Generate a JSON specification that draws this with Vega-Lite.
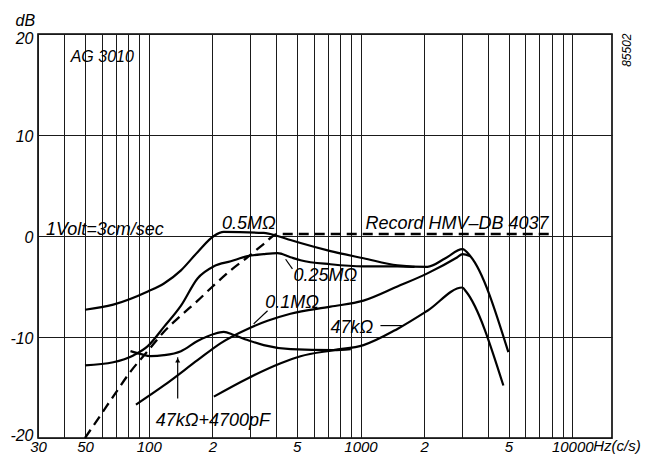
{
  "$schema": "https://vega.github.io/schema/vega-lite/v6.json",
  "width": 574,
  "height": 404,
  "autosize": {"type": "none"},
  "padding": {"left": 38, "top": 34, "right": 38, "bottom": 17},
  "background": "white",
  "config": {
    "view": {"stroke": "black", "strokeWidth": 1.6},
    "font": "Liberation Sans",
    "axis": {
      "labelFont": "Liberation Sans",
      "labelFontStyle": "italic",
      "labelFontSize": 15,
      "labelColor": "black",
      "gridColor": "#1a1a1a",
      "gridWidth": 1,
      "gridOpacity": 1,
      "domain": false,
      "ticks": false
    }
  },
  "datasets": {
    "curves": [
      {"s": "0.5", "f": 50, "db": -7.3}, {"s": "0.5", "f": 68, "db": -6.8}, {"s": "0.5", "f": 99, "db": -5.5},
      {"s": "0.5", "f": 118, "db": -4.7}, {"s": "0.5", "f": 142, "db": -3.4}, {"s": "0.5", "f": 170, "db": -1.6},
      {"s": "0.5", "f": 203, "db": 0.0}, {"s": "0.5", "f": 226, "db": 0.4}, {"s": "0.5", "f": 349, "db": 0.3},
      {"s": "0.5", "f": 406, "db": 0.0}, {"s": "0.5", "f": 467, "db": -0.4}, {"s": "0.5", "f": 521, "db": -0.7},
      {"s": "0.5", "f": 722, "db": -1.5}, {"s": "0.5", "f": 1033, "db": -2.2}, {"s": "0.5", "f": 1494, "db": -2.9},
      {"s": "0.5", "f": 2070, "db": -3.05}, {"s": "0.5", "f": 2518, "db": -2.2}, {"s": "0.5", "f": 3028, "db": -1.3},
      {"s": "0.5", "f": 3303, "db": -2.0}, {"s": "0.5", "f": 4991, "db": -11.5},

      {"s": "0.25", "f": 50, "db": -12.8}, {"s": "0.25", "f": 68, "db": -12.5}, {"s": "0.25", "f": 85, "db": -11.8},
      {"s": "0.25", "f": 99, "db": -10.9}, {"s": "0.25", "f": 118, "db": -9.0}, {"s": "0.25", "f": 142, "db": -6.9},
      {"s": "0.25", "f": 170, "db": -4.2}, {"s": "0.25", "f": 203, "db": -3.0}, {"s": "0.25", "f": 244, "db": -2.5},
      {"s": "0.25", "f": 293, "db": -2.0}, {"s": "0.25", "f": 349, "db": -1.8}, {"s": "0.25", "f": 406, "db": -1.7},
      {"s": "0.25", "f": 467, "db": -2.1}, {"s": "0.25", "f": 521, "db": -2.4}, {"s": "0.25", "f": 722, "db": -2.8},
      {"s": "0.25", "f": 1033, "db": -3.0}, {"s": "0.25", "f": 1494, "db": -3.0}, {"s": "0.25", "f": 1800, "db": -3.05},

      {"s": "0.1", "f": 87, "db": -16.7}, {"s": "0.1", "f": 118, "db": -14.8}, {"s": "0.1", "f": 170, "db": -12.3},
      {"s": "0.1", "f": 219, "db": -10.6}, {"s": "0.1", "f": 293, "db": -9.2}, {"s": "0.1", "f": 364, "db": -8.4},
      {"s": "0.1", "f": 467, "db": -7.7}, {"s": "0.1", "f": 722, "db": -7.0}, {"s": "0.1", "f": 1033, "db": -6.4},
      {"s": "0.1", "f": 1494, "db": -5.0}, {"s": "0.1", "f": 2070, "db": -3.7}, {"s": "0.1", "f": 2868, "db": -2.1},
      {"s": "0.1", "f": 3028, "db": -1.8}, {"s": "0.1", "f": 3303, "db": -2.0},

      {"s": "47kC", "f": 82, "db": -11.4}, {"s": "47kC", "f": 92, "db": -11.7}, {"s": "47kC", "f": 102, "db": -11.9},
      {"s": "47kC", "f": 118, "db": -11.8}, {"s": "47kC", "f": 142, "db": -11.4}, {"s": "47kC", "f": 170, "db": -10.4},
      {"s": "47kC", "f": 203, "db": -9.7}, {"s": "47kC", "f": 226, "db": -9.5}, {"s": "47kC", "f": 252, "db": -9.8},
      {"s": "47kC", "f": 293, "db": -10.3}, {"s": "47kC", "f": 349, "db": -10.8}, {"s": "47kC", "f": 468, "db": -11.2},
      {"s": "47kC", "f": 746, "db": -11.3}, {"s": "47kC", "f": 900, "db": -11.2},

      {"s": "47k", "f": 203, "db": -15.9}, {"s": "47k", "f": 293, "db": -14.1}, {"s": "47k", "f": 420, "db": -12.6},
      {"s": "47k", "f": 521, "db": -11.9}, {"s": "47k", "f": 746, "db": -11.3}, {"s": "47k", "f": 1033, "db": -10.8},
      {"s": "47k", "f": 1494, "db": -9.2}, {"s": "47k", "f": 2070, "db": -7.4}, {"s": "47k", "f": 3028, "db": -5.1},
      {"s": "47k", "f": 3150, "db": -5.5}, {"s": "47k", "f": 4727, "db": -14.8}
    ],
    "record": [
      {"f": 50, "db": -20}, {"f": 59.4, "db": -17.7}, {"f": 68.4, "db": -15.8}, {"f": 82.2, "db": -13.4},
      {"f": 98.9, "db": -11.4}, {"f": 117.7, "db": -9.5}, {"f": 141.6, "db": -7.9}, {"f": 170.3, "db": -6.4},
      {"f": 202.6, "db": -4.9}, {"f": 243.7, "db": -3.4}, {"f": 293.1, "db": -2.1}, {"f": 348.7, "db": -0.8},
      {"f": 406, "db": 0.2}, {"f": 7900, "db": 0.2}
    ],
    "leaders": [
      {"f": 443, "db": -2.3, "f2": 477, "db2": -3.25},
      {"f": 313, "db": -8.7, "f2": 364, "db2": -7.4},
      {"f": 1242, "db": -8.87, "f2": 1578, "db2": -8.87},
      {"f": 137, "db": -16.1, "f2": 137, "db2": -12.0}
    ],
    "arrow": [{"f": 137, "db": -12.3}],
    "labels": [
      {"f": 32.7, "db": 0.1, "t": "1Volt=3cm/sec"},
      {"f": 222, "db": 0.7, "t": "0.5MΩ"},
      {"f": 1056, "db": 0.7, "t": "Record HMV–DB 4037"},
      {"f": 483, "db": -4.5, "t": "0.25MΩ"},
      {"f": 355, "db": -7.1, "t": "0.1MΩ"},
      {"f": 722, "db": -9.65, "t": "47kΩ"},
      {"f": 108, "db": -18.8, "t": "47kΩ+4700pF"}
    ],
    "model": [{"f": 42.8, "db": 17.24, "t": "AG 3010"}],
    "unit": [{"f": 10000, "db": -20, "t": "Hz(c/s)"}],
    "code": [{"f": 18150, "db": 18.4, "t": "85502"}]
  },
  "encoding": {
    "x": {
      "field": "f", "type": "quantitative",
      "scale": {"type": "log", "domain": [30, 15400], "nice": false},
      "axis": {
        "orient": "bottom",
        "title": null,
        "values": [30, 40, 50, 60, 70, 80, 90, 100, 200, 300, 400, 500, 600, 700, 800, 900, 1000, 2000, 3000, 4000, 5000, 6000, 7000, 8000, 9000, 10000],
        "labelExpr": "datum.value==30?'30':datum.value==50?'50':datum.value==100?'100':datum.value==200?'2':datum.value==500?'5':datum.value==1000?'1000':datum.value==2000?'2':datum.value==5000?'5':datum.value==10000?'10000':''",
        "labelOverlap": false,
        "labelFlush": false,
        "labelBound": false,
        "labelPadding": 1,
        "labelBaseline": "top",
        "grid": true
      }
    },
    "y": {
      "field": "db", "type": "quantitative",
      "scale": {"domain": [-20, 20], "nice": false, "zero": false},
      "axis": {
        "values": [-20, -10, 0, 10, 20],
        "labelExpr": "'' + datum.value",
        "labelPadding": 5,
        "labelOffset": {"condition": [{"test": "datum.value == -20", "value": -3}, {"test": "datum.value == 20", "value": 4}], "value": 1},
        "labelFontSize": 16,
        "grid": true,
        "title": "dB",
        "titleAngle": 0,
        "titleAlign": "left",
        "titleBaseline": "alphabetic",
        "titleX": -23,
        "titleY": -9,
        "titleFont": "Liberation Sans",
        "titleFontStyle": "italic",
        "titleFontWeight": "normal",
        "titleFontSize": 16,
        "titleColor": "black"
      }
    }
  },
  "layer": [
    {
      "data": {"name": "curves"},
      "mark": {"type": "line", "color": "black", "strokeWidth": 2.2, "interpolate": "monotone"},
      "encoding": {"detail": {"field": "s"}}
    },
    {
      "data": {"name": "record"},
      "mark": {"type": "line", "color": "black", "strokeWidth": 2.3, "strokeDash": [10, 6], "interpolate": "monotone"},
      "encoding": {}
    },
    {
      "data": {"name": "leaders"},
      "mark": {"type": "rule", "color": "black", "strokeWidth": 1.2},
      "encoding": {"x2": {"field": "f2"}, "y2": {"field": "db2"}}
    },
    {
      "data": {"name": "arrow"},
      "mark": {"type": "point", "shape": "triangle-up", "filled": true, "color": "black", "size": 25, "opacity": 1}
    },
    {
      "data": {"name": "labels"},
      "mark": {"type": "text", "align": "left", "baseline": "alphabetic", "fontSize": 18, "fontStyle": "italic", "color": "black"},
      "encoding": {"text": {"field": "t"}}
    },
    {
      "data": {"name": "model"},
      "mark": {"type": "text", "align": "left", "baseline": "alphabetic", "fontSize": 16, "fontStyle": "italic", "color": "black"},
      "encoding": {"text": {"field": "t"}}
    },
    {
      "data": {"name": "unit"},
      "mark": {"type": "text", "align": "left", "baseline": "top", "dx": 21, "dy": 1, "fontSize": 15, "fontStyle": "italic", "color": "black"},
      "encoding": {"text": {"field": "t"}}
    },
    {
      "data": {"name": "code"},
      "mark": {"type": "text", "align": "center", "baseline": "middle", "angle": 270, "fontSize": 12, "fontStyle": "italic", "color": "black"},
      "encoding": {"text": {"field": "t"}}
    }
  ]
}
